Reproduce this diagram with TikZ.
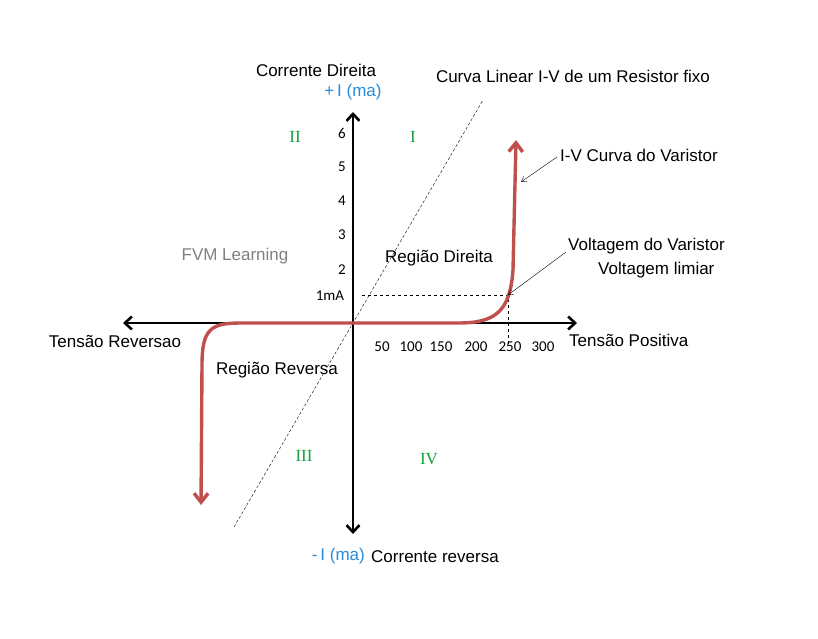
\documentclass[tikz,border=0pt]{standalone}
\usepackage{fontspec}
\setmainfont{Liberation Sans}
\newfontfamily\serifr{Liberation Serif}
\newfontfamily\calib{Carlito}
\usetikzlibrary{arrows.meta}
\definecolor{curvered}{RGB}{192,80,77}
\definecolor{romgreen}{RGB}{20,160,60}
\definecolor{ablue}{RGB}{40,140,220}
\begin{document}
\begin{tikzpicture}[x=1pt,y=-1pt,
  lbl/.style={font=\fontsize{17}{19}\selectfont,inner sep=0pt},
  tick/.style={font=\fontsize{15}{17}\selectfont\calib,inner sep=0pt},
  rom/.style={font=\fontsize{17}{19}\selectfont\serifr,text=romgreen,inner sep=0pt},
  axis/.style={line width=2.6pt,{Straight Barb[length=7pt,width=13pt]}-{Straight Barb[length=7pt,width=13pt]}},
  pointer/.style={thin,-{Straight Barb[length=5pt,width=6pt]}}]
\useasboundingbox (0,0) rectangle (818,638);
\fill[white] (0,0) rectangle (818,638);
\coordinate (O) at (353,323);
\coordinate (yt) at (353,112);
\coordinate (yb) at (353,534);
\coordinate (xl) at (123,323);
\coordinate (xr) at (577,323);
\coordinate (dt) at (483,100);
\coordinate (db) at (234,527);
\coordinate (k) at (508,295);
\coordinate (k1) at (362,295);
\coordinate (k2) at (508,345);
% dashed resistor line
\draw[densely dashed,thin] (db) -- (dt);
\draw[dashed,thin] (k1) -- (k) -- (k2);
% axes
\draw[axis] (yb) -- (yt);
\draw[axis] (xl) -- (xr);
% varistor curve
\draw[curvered,line width=3.4pt,line cap=round,{Straight Barb[length=9pt,width=14pt]}-{Straight Barb[length=9pt,width=14pt]}]
  (201,505) -- (202,365) .. controls (202,330) and (210,323) .. (240,323)
  -- (458,323) .. controls (495,323) and (510,312) .. (513,270) -- (516,140);
% labels
\node[lbl] (cd) at (316,70) {Corrente Direita};
\node[lbl,text=ablue] (pi) at (353,92) {+\,I (ma)};
\node[lbl] (cl) at (573,76) {Curva Linear I-V de um Resistor fixo};
\node[lbl,anchor=west] (cv) at (560,155) {I-V Curva do Varistor};
\node[lbl,anchor=west] (vv) at (568,246) {Voltagem do Varistor};
\node[lbl,anchor=west] (vl) at (598,270) {Voltagem limiar};
\node[lbl,text=gray] (fvm) at (235,256) {FVM Learning};
\node[lbl] (rd) at (439,258) {Região Direita};
\node[lbl] (rr) at (277,370) {Região Reversa};
\node[lbl] (tr) at (115,341) {Tensão Reversao};
\node[lbl,anchor=west] (tp) at (569,340) {Tensão Positiva};
\node[lbl,anchor=west] (cr) at (371,557) {Corrente reversa};
\node[lbl,text=ablue,anchor=east] (mi) at (365,556) {-\,I (ma)};
\draw[pointer] (cv.west) ++(-3,2) -- (521,182);
\draw[pointer] (vv.west) ++(-2,6) -- (k);
% ticks
\foreach \v/\y in {6/133,5/167,4/201,3/235,2/270}
  \node[tick] (t\v) at (342,\y) {\v};
\node[tick] (t1) at (330,296) {1mA};
\foreach \v/\x in {50/382,100/411,150/441,200/476,250/510,300/543}
  \node[tick] (x\v) at (\x,347) {\v};
% roman numerals
\node[rom] (q2) at (295,137) {II};
\node[rom] (q1) at (413,137) {I};
\node[rom] (q3) at (304,456) {III};
\node[rom] (q4) at (429,459) {IV};
\end{tikzpicture}
\end{document}
